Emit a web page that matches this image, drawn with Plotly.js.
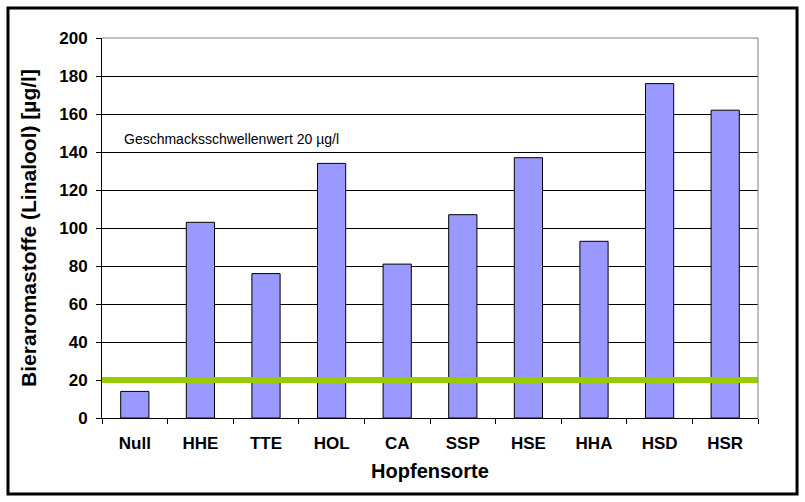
<!DOCTYPE html>
<html>
<head>
<meta charset="utf-8">
<script src="https://cdn.plot.ly/plotly-3.0.1.min.js"></script>
<style>html,body{margin:0;padding:0;background:#fff;}#chart{width:805px;height:502px;}</style>
</head>
<body>
<div id="chart"></div>
<script>
const categories = ["Null","HHE","TTE","HOL","CA","SSP","HSE","HHA","HSD","HSR"];
const linalool = [14, 103, 76, 134, 81, 107, 137, 93, 176, 162];
const thresholdValue = 20;
const thresholdLabel = "Geschmacksschwellenwert 20 µg/l";
const yTicks = [0,20,40,60,80,100,120,140,160,180,200];

const trace = {
  type: "bar",
  x: categories,
  y: linalool,
  marker: {color: "#9999ff", line: {color: "#000000", width: 1}},
  hoverinfo: "x+y"
};

const layout = {
  width: 805, height: 502,
  margin: {l: 102, r: 47, t: 38, b: 84},
  paper_bgcolor: "#ffffff", plot_bgcolor: "#ffffff",
  showlegend: false,
  bargap: 0.57,
  font: {family: "Liberation Sans, Arial, sans-serif", color: "#000"},
  xaxis: {
    type: "category",
    tickson: "boundaries",
    ticks: "outside", ticklen: 5, tickcolor: "#000",
    showline: true, linecolor: "#000", linewidth: 1,
    showgrid: false,
    ticklabelstandoff: 10,
    tickfont: {size: 17, family: "Liberation Sans, Arial", weight: "bold"},
    title: {text: "<b>Hopfensorte</b>", font: {size: 20, family: "Liberation Sans, Arial"}, standoff: 11}
  },
  yaxis: {
    range: [0, 200],
    tickvals: yTicks,
    ticks: "outside", ticklen: 5, tickcolor: "#000",
    showline: true, linecolor: "#000", linewidth: 1,
    showgrid: true, gridcolor: "#000", gridwidth: 1,
    zeroline: false,
    ticklabelstandoff: 5,
    tickfont: {size: 17, family: "Liberation Sans, Arial", weight: "bold"},
    title: {text: "<b>Bieraromastoffe (Linalool) [µg/l]</b>", font: {size: 21, family: "Liberation Sans, Arial"}, standoff: 16}
  },
  shapes: [
    {type: "line", xref: "paper", yref: "y", x0: 0, x1: 1, y0: thresholdValue, y1: thresholdValue,
     line: {color: "#99cc00", width: 6}},
    {type: "line", xref: "paper", yref: "paper", x0: 1, x1: 1, y0: 0, y1: 1, line: {color: "#808080", width: 1}},
    {type: "line", xref: "paper", yref: "paper", x0: 0, x1: 1, y0: 1, y1: 1, line: {color: "#808080", width: 1}},
    {type: "rect", xref: "paper", yref: "paper", x0: -0.1433, x1: 1.0595, y0: -0.2, y1: 1.0789,
     line: {color: "#000", width: 3}, fillcolor: "rgba(0,0,0,0)"}
  ],
  annotations: [
    {xref: "paper", yref: "y", x: 0.03, y: 147, xanchor: "left", yanchor: "middle",
     text: thresholdLabel, showarrow: false, font: {size: 14, family: "Liberation Sans, Arial", color: "#000"}}
  ]
};

Plotly.newPlot("chart", [trace], layout, {displayModeBar: false, staticPlot: true});
</script>
</body>
</html>
